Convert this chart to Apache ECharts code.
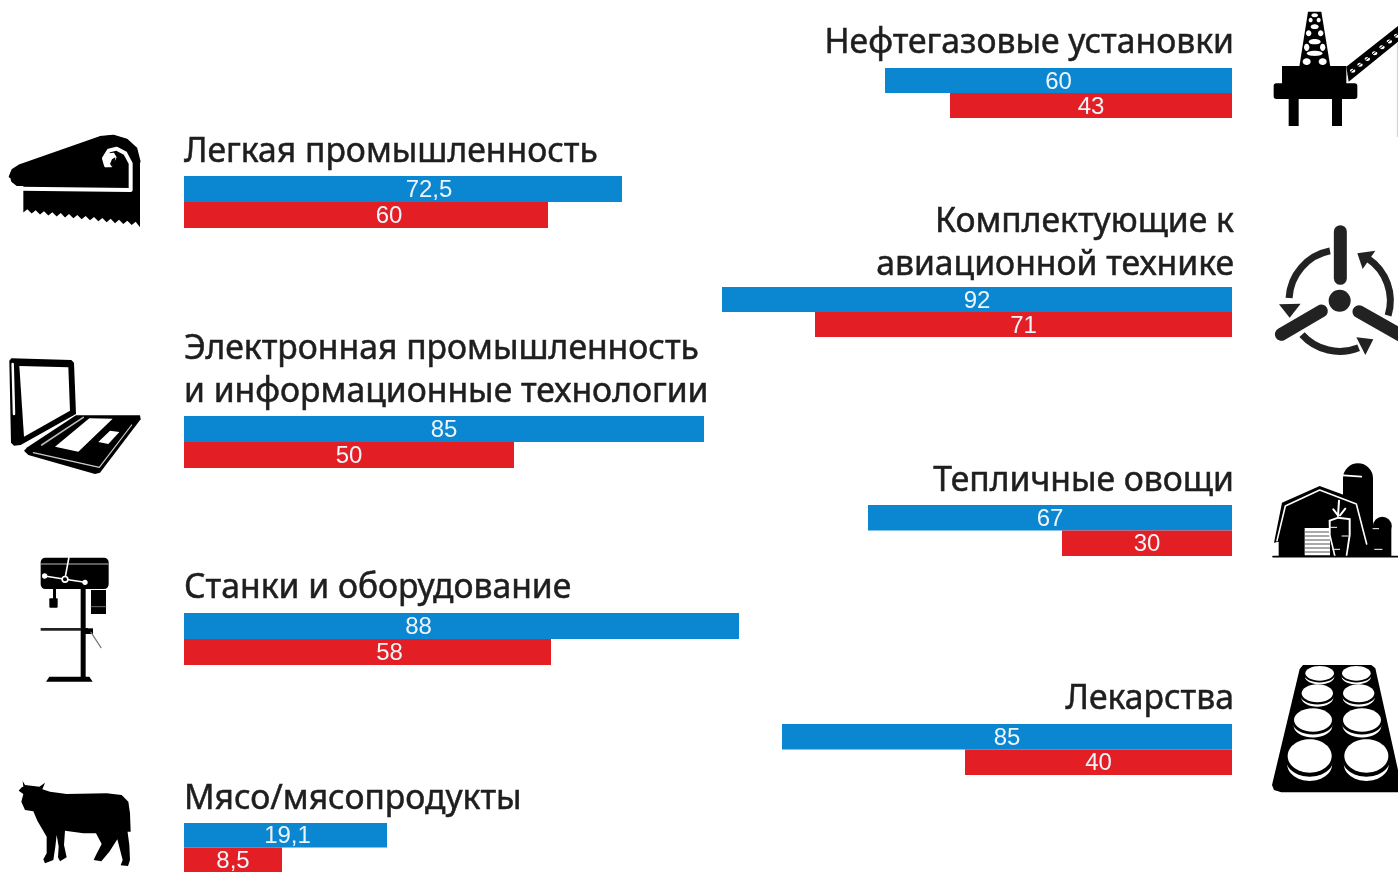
<!DOCTYPE html>
<html><head><meta charset="utf-8">
<style>html,body{margin:0;padding:0;background:#fff;overflow:hidden}#c{width:1398px;height:872px}</style>
<script src="https://cdn.jsdelivr.net/npm/echarts@6/dist/echarts.min.js"></script>
</head><body><div id="c"></div>
<script>
// Panels: printed values and bar lengths as actually drawn in the picture (1 unit = 1 px)
const leftCategories = ["Легкая промышленность", "Электронная промышленность\nи информационные технологии", "Станки и оборудование", "Мясо/мясопродукты"];
const leftBluePrinted = [72.5, 85, 88, 19.1];
const leftRedPrinted = [60, 50, 58, 8.5];
const leftBlueDrawn = [438, 520, 555, 203];
const leftRedDrawn = [364, 330, 367, 98];
const rightCategories = ["Нефтегазовые установки", "Комплектующие к\nавиационной технике", "Тепличные овощи", "Лекарства"];
const rightBluePrinted = [60, 92, 67, 85];
const rightRedPrinted = [43, 71, 30, 40];
const rightBlueDrawn = [347, 510, 364, 450];
const rightRedDrawn = [282, 417, 170, 267];

const BLUE = '#0b86d0', RED = '#e31e25', INK = '#1e1e1e';
const leftTops = [176, 416, 613, 823], rightTops = [68, 287, 505, 724];
const leftHeights = [52, 52, 52, 52], rightHeights = [50, 50, 51, 51];
const leftBlueShift = [[26, 1.5], [0, 1.5], [-43, 1.5], [2, 1.5]];
const leftRedShift = [[23, 1.5], [0, 1.5], [22, 1.5], [0, 1.5]];
const leftTitleY = [[152.5], [349.5, 392.5], [588.5], [799.5]];
const rightTitleY = [[43.5], [222.5, 265.5], [481.5], [699.5]];
const PANEL = 600;
const fmt = v => String(v).replace('.', ',');

const grid = [], xAxis = [], yAxis = [], series = [];
function addGroup(name, top, h, blue, red, bLab, rLab, isRight, bShift, rShift) {
  const i = grid.length;
  grid.push({left: isRight ? 1232 - PANEL : 184, top, width: PANEL, height: h, containLabel: false});
  xAxis.push({gridIndex: i, type: 'value', min: 0, max: PANEL, inverse: isRight, show: false});
  yAxis.push({gridIndex: i, type: 'category', data: ['blue', 'red'], inverse: true, show: false});
  const lab = (txt, shift) => ({show: true, position: 'inside', formatter: fmt(txt), offset: shift,
    color: '#eef5fa', fontFamily: 'Liberation Sans', fontSize: 24});
  series.push({type: 'bar', name, xAxisIndex: i, yAxisIndex: i, barWidth: '100%', silent: true, animation: false,
    data: [
      {value: blue, itemStyle: {color: BLUE}, label: lab(bLab, bShift)},
      {value: red, itemStyle: {color: RED}, label: lab(rLab, rShift)}
    ]});
}
leftCategories.forEach((c, k) => addGroup(c, leftTops[k], leftHeights[k], leftBlueDrawn[k], leftRedDrawn[k],
  leftBluePrinted[k], leftRedPrinted[k], false, leftBlueShift[k], leftRedShift[k]));
rightCategories.forEach((c, k) => addGroup(c, rightTops[k], rightHeights[k], rightBlueDrawn[k], rightRedDrawn[k],
  rightBluePrinted[k], rightRedPrinted[k], true, [0, 1.5], [0, 1.5]));

// Text and pictograms
const g = [];
const titleFont = '33.7px "Noto Sans"';
function titles(cats, ys, x, align) {
  cats.forEach((c, k) => c.split('\n').forEach((line, j) => g.push({type: 'text', silent: true,
    style: {text: line, x, y: ys[k][j], textAlign: align, textVerticalAlign: 'middle', font: titleFont, fill: INK, stroke: INK, lineWidth: 0.5}})));
}
titles(leftCategories, leftTitleY, 184, 'left');
titles(rightCategories, rightTitleY, 1234, 'right');

// Pictogram helpers: coordinates are in 3x crop units relative to an origin
function Icon(ox, oy) {
  const X = x => ox + x / 3, Y = y => oy + y / 3;
  const pts = a => a.map(p => [X(p[0]), Y(p[1])]);
  return {
    poly: (a, fill, smooth) => g.push({type: 'polygon', silent: true, shape: {points: pts(a), smooth: smooth || 0}, style: {fill}}),
    line: (a, stroke, w, smooth) => g.push({type: 'polyline', silent: true, shape: {points: pts(a), smooth: smooth || 0}, style: {stroke, lineWidth: w, fill: null, lineCap: 'round', lineJoin: 'round'}}),
    rect: (x, y, w, h, fill, r) => g.push({type: 'rect', silent: true, shape: {x: X(x), y: Y(y), width: w / 3, height: h / 3, r: (r || 0) / 3}, style: {fill}}),
    ell: (cx, cy, rx, ry, fill) => g.push({type: 'ellipse', silent: true, shape: {cx: X(cx), cy: Y(cy), rx: rx / 3, ry: ry / 3}, style: {fill}}),
    circ: (cx, cy, r, fill) => g.push({type: 'circle', silent: true, shape: {cx: X(cx), cy: Y(cy), r: r / 3}, style: {fill}}),
    arc: (cx, cy, r, a0, a1, stroke, w) => g.push({type: 'arc', silent: true, shape: {cx: X(cx), cy: Y(cy), r: r / 3, startAngle: a0 * Math.PI / 180, endAngle: a1 * Math.PI / 180, clockwise: true}, style: {stroke, lineWidth: w, fill: null}})
  };
}
const K = '#000', W = '#fff';

// Fabric / saw
(function () {
  const i = Icon(0, 120);
  const teeth = [[420, 322]];
  const tx = [395, 370, 345, 320, 295, 270, 245, 220, 195, 170, 145, 120, 95, 70];
  tx.forEach(x => { const base = 318 - (420 - x) * 0.115; teeth.push([x + 12, base - 10], [x, base]); });
  i.line([[30, 170], [38, 150], [60, 136], [300, 52], [340, 48], [380, 60], [408, 85], [418, 125]], K, 2.5);
  i.poly([[30, 170], [38, 150], [60, 136], [300, 50], [340, 45], [380, 58], [408, 85], [420, 125]].concat(teeth).concat([[70, 222], [70, 198], [50, 198], [34, 185]]), K);
  i.line([[62, 206], [392, 210], [392, 130], [376, 100], [350, 86], [326, 92], [312, 115], [318, 136]], W, 4);
  i.poly([[312, 118], [322, 100], [342, 98], [350, 112], [342, 128], [335, 142], [320, 142]], W);
  i.poly([[330, 132], [336, 118], [346, 112], [344, 128], [336, 140]], K);
})();

// Laptop
(function () {
  const i = Icon(0, 340);
  i.poly([[28, 62], [34, 55], [214, 60], [222, 68], [228, 222], [62, 315], [42, 317], [33, 308]], K);
  i.poly([[58, 78], [205, 82], [210, 212], [72, 290]], W);
  i.line([[38, 72], [42, 222]], W, 2.5);
  i.poly([[72, 332], [82, 322], [228, 226], [420, 226], [422, 238], [300, 398], [285, 402], [85, 345]], K);
  i.poly([[165, 320], [268, 235], [338, 236], [235, 335]], W);
  i.poly([[295, 306], [330, 272], [358, 276], [325, 312]], W);
  i.line([[125, 315], [250, 232]], '#bbb', 1.6);
  i.line([[100, 338], [298, 382], [395, 255]], '#ccc', 1.2);
})();

// Drill press
(function () {
  const i = Icon(20, 545);
  i.rect(182, 125, 15, 272, K);
  i.rect(213, 135, 45, 72, K);
  i.line([[213, 185], [258, 185]], '#888', 0.8);
  i.rect(62, 38, 204, 94, K, 14);
  i.line([[64, 57], [264, 57]], '#bbb', 1);
  i.line([[147, 36], [135, 100]], W, 1.6);
  i.line([[74, 93], [135, 103], [195, 112]], W, 1.6);
  i.circ(74, 93, 8, W); i.circ(195, 112, 8, W);
  i.circ(135, 103, 11, W); i.circ(135, 103, 6, K);
  i.rect(99, 130, 9, 32, K);
  i.rect(88, 160, 25, 28, K, 3);
  i.rect(62, 249, 142, 8, '#222');
  i.rect(183, 250, 36, 17, K);
  i.line([[213, 262], [243, 308]], '#777', 1.2);
  i.poly([[88, 395], [208, 395], [218, 410], [78, 410]], K);
})();

// Cow
(function () {
  const i = Icon(0, 770);
  i.poly([[68, 33], [75, 45], [100, 48], [118, 50], [135, 38], [127, 58], [150, 65], [200, 72], [320, 70], [365, 75], [385, 95], [390, 130], [392, 185], [378, 185], [378, 150], [388, 225], [390, 270], [384, 288], [362, 286], [368, 270], [352, 208], [328, 245], [304, 274], [281, 270], [288, 255], [305, 222], [288, 190], [250, 190], [195, 182], [192, 225], [200, 262], [180, 274], [174, 262], [176, 230], [170, 195], [166, 230], [160, 270], [135, 280], [130, 268], [140, 250], [140, 200], [112, 152], [100, 124], [75, 120], [64, 95], [70, 72], [56, 62], [65, 52], [70, 50]], K);
})();

// Oil platform
(function () {
  const i = Icon(1258, 0);
  i.poly([[150, 35], [190, 35], [217, 200], [124, 200]], K);
  [[170, 46, 10, 6], [158, 60, 6, 7], [182, 60, 6, 7], [170, 80, 12, 7], [152, 100, 8, 9], [188, 100, 8, 9], [170, 125, 18, 8], [146, 142, 8, 11], [194, 142, 8, 11], [170, 160, 24, 8], [146, 185, 12, 10], [194, 185, 12, 10]].forEach(p => i.ell(p[0], p[1], p[2], p[3], W));
  i.poly([[265, 200], [420, 78], [420, 125], [272, 245]], K);
  for (let t = 0; t < 7; t++) { i.ell(284 + t * 22, 212 - t * 17.5, 8, 6, W); }
  i.line([[270, 222], [420, 102]], K, 1);
  i.rect(72, 198, 193, 55, K);
  i.rect(47, 250, 251, 47, K, 8);
  i.rect(92, 295, 30, 83, K);
  i.rect(222, 295, 30, 83, K);
  i.line([[418, 130], [418, 410]], '#ccc', 1);
})();

// Propeller
(function () {
  const i = Icon(1258, 215), D = '#222';
  i.line([[247, 50], [247, 190]], D, 13);
  i.line([[70, 358], [190, 288]], D, 13);
  i.line([[303, 290], [430, 362]], D, 13);
  i.circ(245, 257, 33, D);
  i.arc(245, 257, 152, 183, 259, D, 7);
  i.poly([[63, 268], [128, 266], [95, 308]], D);
  i.arc(245, 257, 152, 304, 377, D, 7);
  i.poly([[298, 115], [352, 107], [314, 162]], D);
  i.arc(245, 257, 152, 68, 138, D, 7);
  i.poly([[295, 367], [346, 373], [322, 420]], D);
})();

// Greenhouse / farm
(function () {
  const i = Icon(1258, 450);
  i.rect(255, 85, 90, 235, K);
  i.circ(300, 85, 45, K);
  i.line([[256, 76], [310, 80]], W, 1.6);
  i.poly([[48, 278], [72, 158], [185, 108], [305, 152], [338, 290], [320, 318], [62, 318], [62, 275]], K);
  i.line([[57, 272], [82, 168], [185, 120], [295, 162], [326, 282]], W, 1.6);
  i.rect(140, 234, 76, 82, W);
  for (let n = 0; n < 6; n++) i.line([[140, 246 + n * 12], [216, 246 + n * 12]], '#555', 1);
  i.poly([[212, 210], [240, 200], [278, 205], [278, 255], [268, 318], [228, 318], [213, 255]], W);
  i.poly([[218, 214], [240, 206], [272, 210], [272, 255], [263, 318], [233, 318], [218, 255]], K);
  i.line([[240, 198], [243, 152]], W, 2); i.line([[226, 178], [240, 196]], W, 2); i.line([[262, 176], [246, 196]], W, 2);
  i.line([[218, 232], [236, 232]], W, 1); i.line([[252, 258], [270, 258]], W, 1); i.line([[225, 298], [245, 298]], W, 1);
  i.rect(345, 225, 55, 95, K); i.circ(373, 228, 28, K);
  i.line([[345, 236], [362, 236]], W, 1); i.line([[350, 298], [372, 298]], W, 1);
  i.line([[45, 320], [420, 320]], K, 1.6);
})();

// Tablets blister
(function () {
  const i = Icon(1258, 655);
  i.poly([[125, 42], [135, 30], [340, 30], [352, 40], [420, 345], [420, 412], [70, 412], [48, 405], [42, 390]], K);
  const rows = [[185, 295, 55, 43, 22], [178, 302, 115, 47, 27], [165, 312, 195, 57, 35], [155, 325, 303, 66, 50]];
  rows.forEach(r => [r[0], r[1]].forEach(cx => {
    i.ell(cx, r[2] + r[4] * 0.5, r[3] * 1.02, r[4], W);
    i.ell(cx, r[2] + r[4] * 0.24, r[3] * 1.07, r[4] * 1.0, K);
    i.ell(cx, r[2], r[3], r[4], W);
  }));
})();

const chart = echarts.init(document.getElementById('c'), null, {renderer: 'canvas'});
chart.setOption({backgroundColor: '#fff', animation: false, grid, xAxis, yAxis, series, graphic: {elements: g}});
</script></body></html>
